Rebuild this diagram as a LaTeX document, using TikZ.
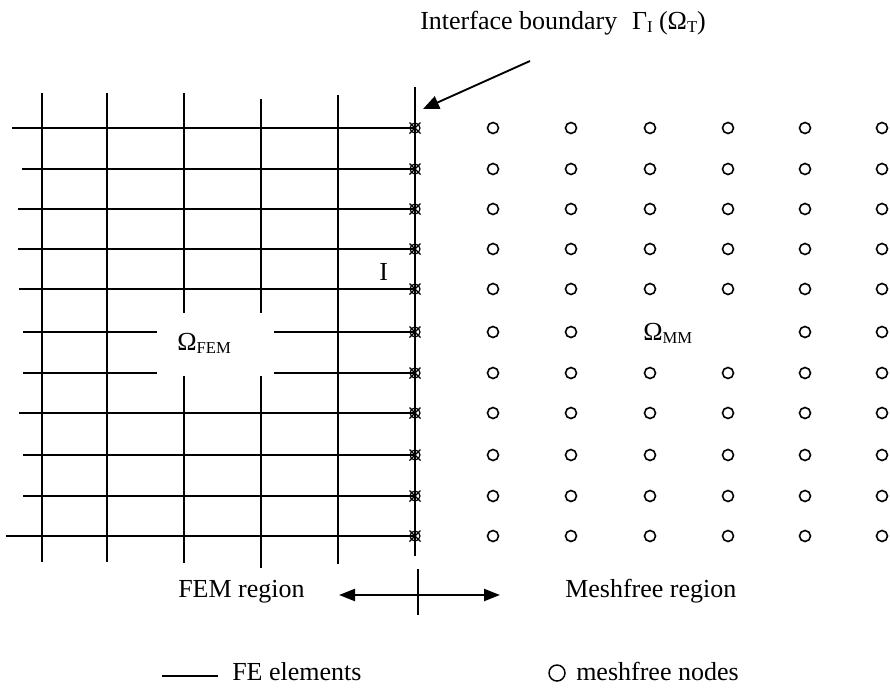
\documentclass[tikz,border=0pt]{standalone}
\usepackage{fontspec}
\setmainfont{Liberation Serif}
\usetikzlibrary{arrows.meta}
% lowered small subscript in text
\newcommand\lowsub[1]{\raisebox{-2.5pt}{\fontsize{12.5}{12.5}\selectfont #1}}
\begin{document}
\begin{tikzpicture}[x=0.75pt,y=-0.75pt,
  grid/.style={line width=1.4pt},
  lbl/.style={inner sep=0pt, anchor=base west, font=\fontsize{19.5}{22}\selectfont},
  mfnode/.style={circle, draw, line width=1.2pt, inner sep=0pt, minimum size=8.25pt},
  ifnode/.style={circle, draw, line width=0.9pt, inner sep=0pt, minimum size=7.5pt},
  pointer/.style={line width=1.4pt, -{Triangle[length=12pt, width=10pt]}},
  span/.style={line width=1.6pt, {Triangle[length=12pt, width=9pt]}-{Triangle[length=12pt, width=9pt]}}]
\useasboundingbox (0,0) rectangle (890,693);

% vertical element lines
\foreach \x/\t/\b in {42/93/562, 107/93/562, 338/95/564}
  \draw[grid] (\x,\t) -- (\x,\b);
\draw[grid] (184,93) -- (184,313) (184,376) -- (184,563);
\draw[grid] (261,99) -- (261,313) (261,376) -- (261,568);
\draw[grid] (415,87) -- (415,556);

% horizontal element lines
\foreach \y/\xl in {128/12, 169/22, 209/18, 249/18, 289/19, 413/19, 455/23, 496/23, 536/6}
  \draw[grid] (\xl,\y) -- (415,\y);
\draw[grid] (23,332) -- (157,332) (274,332) -- (415,332);
\draw[grid] (23,373) -- (157,373) (274,373) -- (415,373);

% interface nodes and meshfree nodes
\foreach \y [count=\i] in {128,169,209,249,289,332,373,413,455,496,536} {
  \node[ifnode] (g\i) at (415,\y) {};
  \draw[line width=0.9pt] ([shift={(-5.5,-5.5)}]g\i.center) -- ([shift={(5.5,5.5)}]g\i.center)
                          ([shift={(-5.5,5.5)}]g\i.center) -- ([shift={(5.5,-5.5)}]g\i.center);
  \foreach \x [count=\j] in {493,571,650,728,805,882} {
    \pgfmathtruncatemacro\skip{(\i==6)*((\j==3)+(\j==4))}
    \ifnum\skip=0
      \node[mfnode] (m\i-\j) at (\x,\y) {};
    \fi
  }
}

% labels
\node[lbl] (title) at (420,29) {Interface boundary\hspace{11pt}Γ\lowsub{I} (Ω\lowsub{T})};
\node[lbl] (ifl) at (379,280.5) {I};
\node[lbl] (ofem) at (177,350) {Ω\lowsub{FEM}};
\node[lbl] (omm) at (643,340) {Ω\lowsub{MM}};
\node[lbl] (femr) at (178,597) {FEM region};
\node[lbl] (mfr) at (565,597) {Meshfree region};
\node[lbl] (fee) at (232,680) {FE elements};
\node[lbl] (mfn) at (576,680) {meshfree nodes};

% pointer to the interface boundary
\coordinate (ps) at (530,61);
\coordinate (pe) at (423,109);
\draw[pointer] (ps) -- (pe);

% region separator
\coordinate (sl) at (339,595);
\coordinate (sr) at (500,595);
\coordinate (tt) at (418,569);
\coordinate (tb) at (418,615);
\draw[span] (sl) -- (sr);
\draw[line width=1.4pt] (tt) -- (tb);

% legend
\coordinate (la) at (162,676);
\coordinate (lb) at (218,676);
\draw[line width=1.4pt] (la) -- (lb);
\node[circle, draw, line width=1.1pt, inner sep=0pt, minimum size=12pt] (lc) at (557,673) {};
\end{tikzpicture}
\end{document}
